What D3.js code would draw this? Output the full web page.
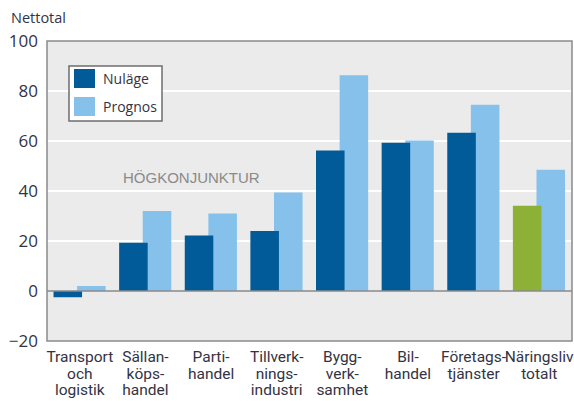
<!DOCTYPE html>
<html>
<head>
<meta charset="utf-8">
<script src="https://cdn.jsdelivr.net/npm/d3@7"></script>
<style>
  html, body { margin: 0; padding: 0; background: #ffffff; }
  svg { display: block; }
  .tick-label { font-family: "Open Sans", "Noto Sans", sans-serif; font-size: 17px; fill: #333344; }
  .cat-label { font-family: "Liberation Sans Narrow", "Arial Narrow", "Roboto", sans-serif; font-size: 15.5px; fill: #333344; }
</style>
</head>
<body>
<div id="chart"></div>
<script>
// Data
const categories = [
    ['Transport', 'och', 'logistik'],
    ['Sällan-', 'köps-', 'handel'],
    ['Parti-', 'handel'],
    ['Tillverk-', 'nings-', 'industri'],
    ['Bygg-', 'verk-', 'samhet'],
    ['Bil-', 'handel'],
    ['Företags-', 'tjänster'],
    ['Näringsliv', 'totalt']
];
const nulage = [-2.5, 19.3, 22.2, 24, 56.2, 59.3, 63.3, 34.1];
const prognos = [2, 32, 31, 39.4, 86.3, 60.2, 74.5, 48.5];
const yTicks = [-20, 0, 20, 40, 60, 80, 100];
const seriesNames = ['Nuläge', 'Prognos'];

const width = 574;
const height = 401;
const margin = { top: 41, right: 2, bottom: 60, left: 47 };

const colors = {
    dark: '#005b98',
    light: '#86c1eb',
    total: '#8db136',
    plotBg: '#ebebeb',
    grid: '#ffffff',
    axis: '#8a8a8a'
};

const svg = d3.select('#chart')
    .append('svg')
    .attr('width', width)
    .attr('height', height);

const x = d3.scaleBand()
    .domain(d3.range(categories.length))
    .range([margin.left, width - margin.right])
    .paddingInner(0)
    .paddingOuter(0);

const y = d3.scaleLinear()
    .domain([-20, 100])
    .range([height - margin.bottom, margin.top]);

// Plot background
svg.append('rect')
    .attr('x', margin.left)
    .attr('y', margin.top)
    .attr('width', width - margin.left - margin.right)
    .attr('height', height - margin.top - margin.bottom)
    .attr('fill', colors.plotBg);

// Gridlines
svg.append('g')
    .selectAll('line')
    .data(yTicks.filter(d => d !== 0 && d !== -20 && d !== 100))
    .enter().append('line')
    .attr('x1', margin.left)
    .attr('x2', width - margin.right)
    .attr('y1', d => y(d))
    .attr('y2', d => y(d))
    .attr('stroke', colors.grid)
    .attr('stroke-width', 2);

// Bars: each bar ~ 0.435 of group width, light drawn first, dark overlaps
const bw = x.bandwidth();
const barW = bw * 0.435;
const center = i => x(i) + bw / 2;

svg.append('g')
    .selectAll('rect')
    .data(prognos)
    .enter().append('rect')
    .attr('x', (d, i) => center(i) - 2.7)
    .attr('width', barW)
    .attr('y', d => y(Math.max(0, d)))
    .attr('height', d => Math.abs(y(d) - y(0)))
    .attr('fill', colors.light);

svg.append('g')
    .selectAll('rect')
    .data(nulage)
    .enter().append('rect')
    .attr('x', (d, i) => center(i) - 26.3)
    .attr('width', barW)
    .attr('y', d => y(Math.max(0, d)))
    .attr('height', d => Math.abs(y(d) - y(0)))
    .attr('fill', (d, i) => i === categories.length - 1 ? colors.total : colors.dark);

// Zero line
svg.append('line')
    .attr('x1', margin.left)
    .attr('x2', width - margin.right)
    .attr('y1', y(0))
    .attr('y2', y(0))
    .attr('stroke', colors.axis)
    .attr('stroke-width', 1.5);

// Plot frame
svg.append('rect')
    .attr('x', margin.left)
    .attr('y', margin.top)
    .attr('width', width - margin.left - margin.right)
    .attr('height', height - margin.top - margin.bottom)
    .attr('fill', 'none')
    .attr('stroke', colors.axis)
    .attr('stroke-width', 1.5);

// Y axis labels
const yAxis = d3.axisLeft(y).tickValues(yTicks).tickSize(0).tickPadding(9);
svg.append('g')
    .attr('transform', `translate(${margin.left},0)`)
    .call(yAxis)
    .call(g => g.select('.domain').remove())
    .call(g => g.selectAll('text')
        .attr('class', 'tick-label')
        .attr('fill', null)
        .attr('font-family', null)
        .attr('font-size', null));

svg.append('text')
    .attr('x', 11)
    .attr('y', 23)
    .attr('class', 'tick-label')
    .style('font-size', '14.5px')
    .text('Nettotal');

// Category labels
const catGroups = svg.append('g')
    .selectAll('text')
    .data(categories)
    .enter().append('text')
    .attr('class', 'cat-label')
    .attr('text-anchor', 'middle')
    .attr('x', (d, i) => center(i))
    .attr('y', 362);

catGroups.selectAll('tspan')
    .data(d => d)
    .enter().append('tspan')
    .attr('x', function () { return d3.select(this.parentNode).attr('x'); })
    .attr('dy', (d, i) => i === 0 ? 0 : 16.5)
    .text(d => d);

// Annotation
svg.append('text')
    .attr('x', 123)
    .attr('y', 183)
    .attr('fill', '#8a8a8a')
    .style('font-family', '"Liberation Sans Narrow", "Arial Narrow", sans-serif')
    .style('font-size', '15px')
    .text('HÖGKONJUNKTUR');

// Legend
const legend = svg.append('g').attr('transform', 'translate(69,66)');
legend.append('rect')
    .attr('width', 93)
    .attr('height', 55)
    .attr('fill', '#ffffff')
    .attr('stroke', '#6e6e6e')
    .attr('stroke-width', 1.5);

const legendColors = [colors.dark, colors.light];
const items = legend.selectAll('g.item')
    .data(seriesNames)
    .enter().append('g')
    .attr('class', 'item')
    .attr('transform', (d, i) => `translate(5,${3 + i * 28})`);

items.append('rect')
    .attr('width', 21)
    .attr('height', 19)
    .attr('fill', (d, i) => legendColors[i]);

items.append('text')
    .attr('x', 29)
    .attr('y', 15)
    .attr('class', 'tick-label')
    .style('font-size', '14px')
    .text(d => d);
</script>
</body>
</html>
